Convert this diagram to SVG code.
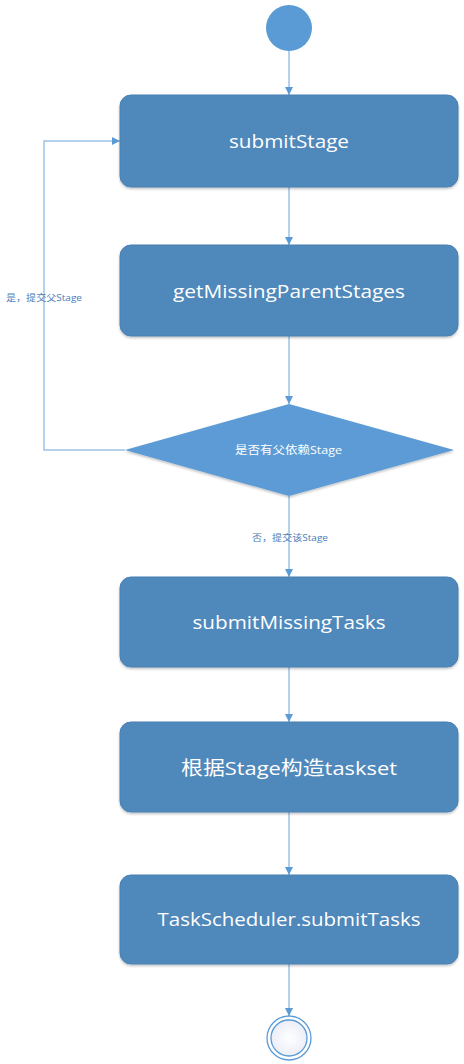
<svg xmlns="http://www.w3.org/2000/svg" width="464" height="1064" viewBox="0 0 464 1064">
<defs>
<marker id="arr" viewBox="0 0 10 10" refX="10" refY="5" markerWidth="8" markerHeight="8" markerUnits="userSpaceOnUse" orient="auto">
<path d="M0,0 L10,5 L0,10 z" fill="#5B9BD5"/>
</marker>
<radialGradient id="endg" cx="0.5" cy="0.5" r="0.5">
<stop offset="0" stop-color="#ffffff"/>
<stop offset="1" stop-color="#eceef8"/>
</radialGradient>
<filter id="sh" x="-5%" y="-5%" width="110%" height="115%">
<feDropShadow dx="0" dy="1.5" stdDeviation="1.2" flood-color="#000" flood-opacity="0.25"/>
</filter>
</defs>
<style>
.box{fill:#4F88BB;stroke:#4A80B2;stroke-width:1;filter:url(#sh)}
.bt{fill:#ffffff;font-family:"Open Sans","Liberation Sans","Noto Sans CJK SC",sans-serif;font-size:19px;text-anchor:middle}
.conn{stroke:#9DC3E6;stroke-width:1.5;fill:none;marker-end:url(#arr)}
.lbl{fill:#4A7EBB;font-family:"Open Sans","Liberation Sans","Noto Sans CJK SC",sans-serif;font-size:9px}
</style>
<g id="connectors">
<line class="conn" x1="289" y1="51" x2="289" y2="95"/>
<line class="conn" x1="289" y1="187" x2="289" y2="245"/>
<line class="conn" x1="289" y1="336" x2="289" y2="404"/>
<line class="conn" x1="289" y1="496" x2="289" y2="577"/>
<line class="conn" x1="289" y1="667" x2="289" y2="722"/>
<line class="conn" x1="289" y1="812" x2="289" y2="875"/>
<line class="conn" x1="289" y1="964" x2="289" y2="1016"/>
<polyline class="conn" points="125,450 44,450 44,141 120,141"/>
<text class="lbl" x="6" y="301" textLength="76" lengthAdjust="spacingAndGlyphs">是，提交父Stage</text>
<text class="lbl" x="252" y="541" textLength="76" lengthAdjust="spacingAndGlyphs">否，提交该Stage</text>
</g>
<g id="start">
<circle cx="289" cy="28" r="23" fill="#5B9BD5"/>
</g>
<g id="submitStage">
<rect class="box" x="120" y="95" width="338" height="92" rx="11"/>
<text class="bt" x="289" y="148" textLength="120" lengthAdjust="spacingAndGlyphs">submitStage</text>
</g>
<g id="getMissingParentStages">
<rect class="box" x="120" y="245" width="338" height="91" rx="11"/>
<text class="bt" x="289" y="298" textLength="232" lengthAdjust="spacingAndGlyphs">getMissingParentStages</text>
</g>
<g id="decision">
<polygon points="289,404 454,450 289,496 125,450" fill="#5B9BD5" filter="url(#sh)"/>
<text x="288.5" y="454" fill="#ffffff" font-family="'Open Sans','Liberation Sans','Noto Sans CJK SC',sans-serif" font-size="11" text-anchor="middle" textLength="107" lengthAdjust="spacingAndGlyphs">是否有父依赖Stage</text>
</g>
<g id="submitMissingTasks">
<rect class="box" x="120" y="577" width="338" height="90" rx="11"/>
<text class="bt" x="289" y="629" textLength="193" lengthAdjust="spacingAndGlyphs">submitMissingTasks</text>
</g>
<g id="buildTaskset">
<rect class="box" x="120" y="722" width="338" height="90" rx="11"/>
<text class="bt" x="289" y="775" textLength="216" lengthAdjust="spacingAndGlyphs">根据Stage构造taskset</text>
</g>
<g id="submitTasks">
<rect class="box" x="120" y="875" width="338" height="89" rx="11"/>
<text class="bt" x="289" y="926" textLength="263" lengthAdjust="spacingAndGlyphs">TaskScheduler.submitTasks</text>
</g>
<g id="end">
<circle cx="289" cy="1038" r="22" fill="#ffffff" stroke="#5B9BD5" stroke-width="1.3"/>
<circle cx="289" cy="1038" r="18" fill="url(#endg)" stroke="#5B9BD5" stroke-width="1.3"/>
</g>
</svg>
